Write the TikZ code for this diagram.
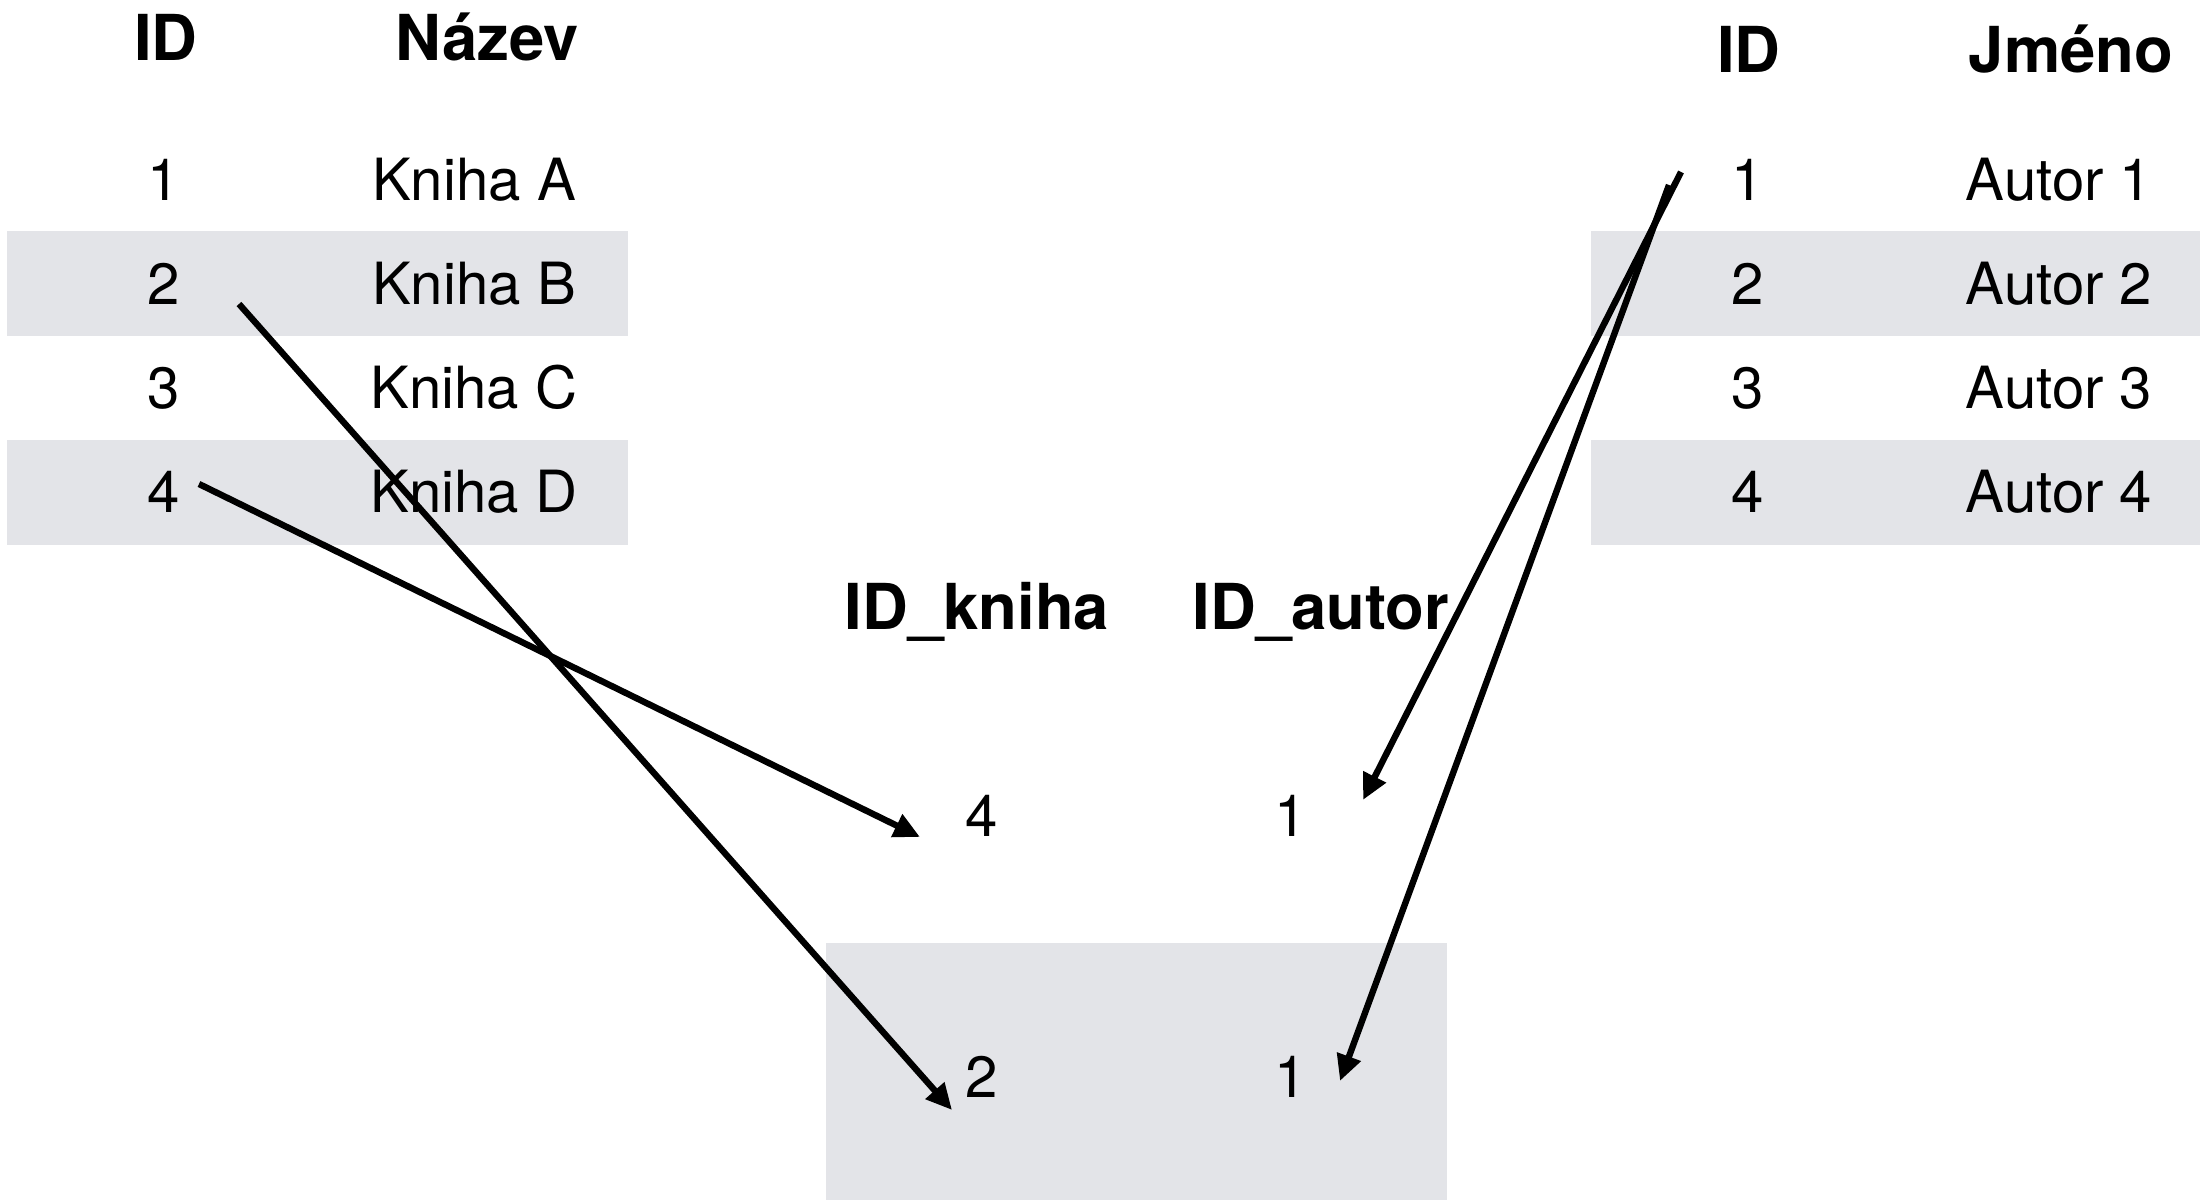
\documentclass[tikz,border=0pt]{standalone}
\usepackage{fontspec}
\setmainfont{TeX Gyre Heros}
\usepackage{tikz}
\usetikzlibrary{arrows.meta}
\definecolor{rowgray}{RGB}{227,228,232}

\begin{document}
\begin{tikzpicture}[>={Triangle[length=13bp,width=12bp]},line join=bevel,
  cell/.style={anchor=base,inner sep=0pt,
               font=\fontsize{29.2}{35}\selectfont},
  head/.style={anchor=base,inner sep=0pt,
               font=\fontsize{31.8}{38}\selectfont\bfseries},
  stripe/.style={fill=rowgray,draw=none},
  link/.style={->,line width=3.2bp},
  ]
\useasboundingbox (0bp,0bp) rectangle (1100bp,600bp);
%% stripes
\fill[white] (0bp,0bp) rectangle (1100bp,600bp);
\path[stripe] (3.5bp,432.0bp) rectangle (314.0bp,484.5bp);
\path[stripe] (3.5bp,327.5bp) rectangle (314.0bp,380.0bp);
\path[stripe] (795.5bp,432.0bp) rectangle (1100.0bp,484.5bp);
\path[stripe] (795.5bp,327.5bp) rectangle (1100.0bp,380.0bp);
\path[stripe] (413.0bp,0.0bp) rectangle (723.5bp,128.5bp);
%% books
  \node (book_id) at (83.0bp,569.5bp) [head] {ID};
  \node (book_name) at (243.5bp,569.5bp) [head] {Název};
  \node (book1_id) at (82.0bp,499.5bp) [cell] {1};
  \node (book1_name) at (237.0bp,499.5bp) [cell] {Kniha A};
  \node (book2_id) at (82.0bp,447.5bp) [cell] {2};
  \node (book2_name) at (237.0bp,447.5bp) [cell] {Kniha B};
  \node (book3_id) at (82.0bp,395.5bp) [cell] {3};
  \node (book3_name) at (237.0bp,395.5bp) [cell] {Kniha C};
  \node (book4_id) at (82.0bp,343.5bp) [cell] {4};
  \node (book4_name) at (237.0bp,343.5bp) [cell] {Kniha D};
%% authors
  \node (author_id) at (874.5bp,563.5bp) [head] {ID};
  \node (author_name) at (1035.5bp,563.5bp) [head] {Jméno};
  \node (author1_id) at (874.0bp,499.5bp) [cell] {1};
  \node (author1_name) at (1029.5bp,499.5bp) [cell] {Autor 1};
  \node (author2_id) at (874.0bp,447.5bp) [cell] {2};
  \node (author2_name) at (1029.5bp,447.5bp) [cell] {Autor 2};
  \node (author3_id) at (874.0bp,395.5bp) [cell] {3};
  \node (author3_name) at (1029.5bp,395.5bp) [cell] {Autor 3};
  \node (author4_id) at (874.0bp,343.5bp) [cell] {4};
  \node (author4_name) at (1029.5bp,343.5bp) [cell] {Autor 4};
%% join table
  \node (join_book) at (488.5bp,285.0bp) [head] {ID\_kniha};
  \node (join_author) at (660.5bp,285.0bp) [head] {ID\_autor};
  \node (join1_book) at (491.0bp,181.5bp) [cell] {4};
  \node (join1_author) at (645.5bp,181.5bp) [cell] {1};
  \node (join2_book) at (491.0bp,51.0bp) [cell] {2};
  \node (join2_author) at (645.5bp,51.0bp) [cell] {1};
%% arrow ends
  \coordinate (book2_out) at (119.5bp,448.0bp);
  \coordinate (book4_out) at (99.5bp,358.0bp);
  \coordinate (author1_outa) at (840.5bp,514.0bp);
  \coordinate (author1_outb) at (834.5bp,507.5bp);
  \coordinate (join1_book_in) at (460.0bp,181.5bp);
  \coordinate (join2_book_in) at (476.0bp,45.0bp);
  \coordinate (join1_author_in) at (681.5bp,200.0bp);
  \coordinate (join2_author_in) at (670.0bp,59.5bp);
  \draw [link] (book2_out) -- (join2_book_in);
  \draw [link] (book4_out) -- (join1_book_in);
  \draw [link] (author1_outa) -- (join1_author_in);
  \draw [link] (author1_outb) -- (join2_author_in);
%
\end{tikzpicture}
\end{document}
